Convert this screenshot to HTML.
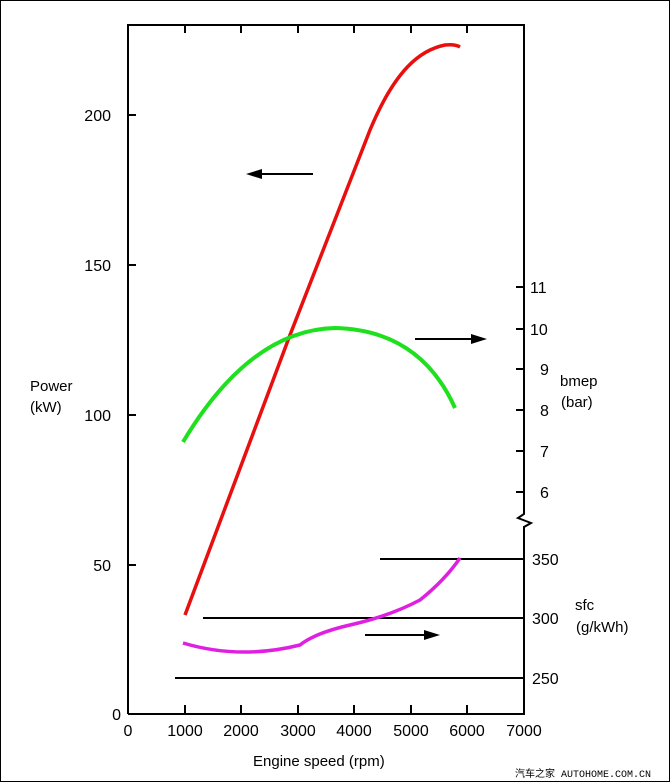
<!DOCTYPE html>
<html><head><style>
html,body{margin:0;padding:0;background:#fff}
svg{display:block}
text{font-family:"Liberation Sans",Arial,sans-serif;fill:#000}
</style></head><body>
<svg width="670" height="782" viewBox="0 0 670 782">
<rect x="0.5" y="0.5" width="669" height="781" fill="#fff" stroke="#000"/>
<g stroke="#000" stroke-width="2" fill="none">
<path d="M128,714 V25 H524 V514 L518,518 L531,523 L524,527 V714 H128"/>
<path d="M185,25 v8 M241,25 v8 M298,25 v8 M354,25 v8 M411,25 v8 M467,25 v8"/>
<path d="M128,115 h8 M128,265 h8 M128,415 h8 M128,565 h8"/>
<path d="M185,714 v-9 M241,714 v-9 M298,714 v-9 M354,714 v-9 M411,714 v-9 M467,714 v-9"/>
<path d="M516,287 h8 M516,329 h8 M516,369 h8 M516,410 h8 M516,451 h8 M516,492 h8"/>
<path d="M380,559 H524 M203,618 H524 M175,678 H524"/>
<path d="M313,174 H258 M415,339 H475 M365,635 H428"/>
</g>
<g fill="#000">
<polygon points="246,174 262,169 262,179"/>
<polygon points="487,339 471,334 471,344"/>
<polygon points="440,635 424,630 424,640"/>
</g>
<path d="M185,615 L290,335 L370,130 C395,70 420,50 445,45 Q455,44 460,47" stroke="#e8100e" stroke-width="3.5" fill="none"/>
<path d="M183,442 Q250,330 335,328 Q420,330 455,408" stroke="#1ee01e" stroke-width="4" fill="none"/>
<path d="M183,643 Q240,660 300,645 Q315,633 350,625 Q390,616 420,600 Q445,580 460,558" stroke="#e020e0" stroke-width="3.5" fill="none"/>
<g font-size="16" text-anchor="end">
<text x="111" y="121">200</text><text x="111" y="271">150</text><text x="111" y="421">100</text><text x="111" y="571">50</text><text x="121" y="720">0</text>
</g>
<g font-size="16" text-anchor="middle">
<text x="128" y="736">0</text><text x="185" y="736">1000</text><text x="241" y="736">2000</text><text x="298" y="736">3000</text><text x="354" y="736">4000</text><text x="411" y="736">5000</text><text x="467" y="736">6000</text><text x="524" y="736">7000</text>
</g>
<g font-size="16">
<text x="530" y="293">11</text><text x="530" y="335">10</text><text x="540" y="375">9</text><text x="540" y="416">8</text><text x="540" y="457">7</text><text x="540" y="498">6</text>
<text x="532" y="565">350</text><text x="532" y="624">300</text><text x="532" y="684">250</text>
</g>
<g font-size="15">
<text x="30" y="391">Power</text><text x="30" y="412">(kW)</text>
<text x="560" y="386">bmep</text><text x="561" y="407">(bar)</text>
<text x="575" y="610">sfc</text><text x="576" y="632">(g/kWh)</text>
<text x="253" y="766">Engine speed (rpm)</text>
</g>
<text x="515" y="777" font-size="10" style="font-family:'Liberation Mono','Noto Sans CJK SC',monospace">汽车之家 AUTOHOME.COM.CN</text>
</svg>
</body></html>
